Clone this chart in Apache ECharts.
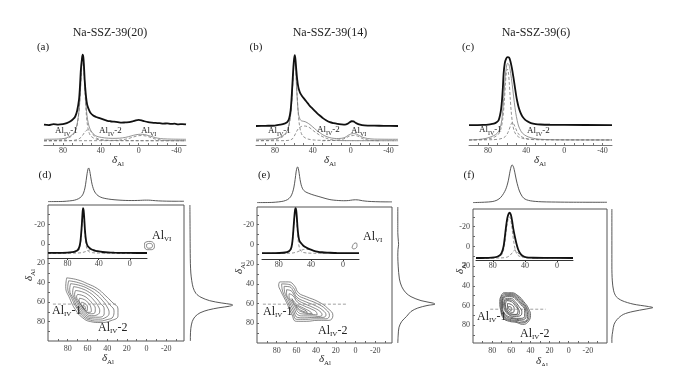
<!DOCTYPE html>
<html><head><meta charset="utf-8">
<script src="https://cdn.jsdelivr.net/npm/echarts@6/dist/echarts.min.js"></script>
<style>html,body{margin:0;padding:0;background:#fff}#c{width:700px;height:366px}</style>
</head><body><div id="c"></div>
<script>
// ---------------- DATA ----------------
const TITLES = ['Na-SSZ-39(20)', 'Na-SSZ-39(14)', 'Na-SSZ-39(6)'];
const LETTERS_TOP = ['(a)', '(b)', '(c)'];
const LETTERS_BOT = ['(d)', '(e)', '(f)'];
const TOP_X_LABELS = [80, 40, 0, -40];
const TOP_X_TICKS = [90, 80, 70, 60, 50, 40, 30, 20, 10, 0, -10, -20, -30, -40];
const MAP_X_LABELS = [80, 60, 40, 20, 0, -20];
const MAP_X_TICKS = [90, 80, 70, 60, 50, 40, 30, 20, 10, 0, -10, -20, -30];
const MAP_Y_LABELS = [-20, 0, 20, 40, 60, 80];
const MAP_Y_TICKS = [-30, -20, -10, 0, 10, 20, 30, 40, 50, 60, 70, 80, 90];
const INSET_X_LABELS = [80, 40, 0];

// (a) 1D spectrum [ppm, intensity]
const A_EXP = [[100,21.5],[95,21],[90,22],[85,21.5],[80,22],[76,23],[72,25],[69,27.5],[67,30],[65,36],[63,48],[62,62],[61,80],[60,90],[59.2,95],[58.4,92],[57.6,80],[57,68],[56,55],[55,46],[54,41],[52.5,37],[51,34],[48,31],[45,29.5],[42,28.5],[39,27.5],[36,26.5],[33,25.5],[30,25],[26,24.5],[22,24],[18,23.5],[14,23.8],[10,24],[6,25],[3,26],[0,26.5],[-3,26],[-6,25],[-10,24],[-14,23.5],[-18,23.2],[-22,23],[-26,22.5],[-30,22.8],[-34,22.2],[-38,22.4],[-42,21.8],[-46,22],[-50,21.6]];
const A_FIT = [[100,6],[85,6.3],[78,7],[74,8.5],[70,11],[67,15],[65,22],[63,36],[62,50],[61,68],[60,85],[59.3,92],[58.5,90],[57.8,80],[57,64],[56,48],[55,35],[54,27],[52.5,20],[51,16],[49,13],[46,10],[42,8.5],[36,7.5],[28,7],[20,7.2],[14,8],[8,9.5],[3,10.8],[-2,11.3],[-6,11],[-10,10],[-15,8.5],[-20,7.2],[-26,6.5],[-35,6.2],[-50,6]];
const A_IV1 = [[100,4.5],[85,5],[78,6],[73,8],[69,11],[66,17],[64,27],[62.5,42],[61.5,58],[60.5,77],[59.7,88],[59,90],[58.3,86],[57.5,72],[56.5,52],[55.5,35],[54.5,24],[53,15],[51,10],[48,7.5],[44,6],[38,5.2],[25,4.8],[0,4.6],[-50,4.5]];
const A_IV2 = [[100,4.5],[75,4.6],[68,5],[64,6],[61,8],[59,10.5],[57,13.5],[55,15.5],[53,16],[51,15],[49,12.5],[47,9.5],[44,7],[40,5.5],[34,4.8],[20,4.5],[-50,4.5]];
const A_VI = [[100,4.5],[30,4.6],[20,5.2],[12,6.5],[6,8.3],[1,9.7],[-3,10],[-7,9.6],[-12,8.2],[-17,6.5],[-23,5.3],[-30,4.7],[-50,4.5]];

// (b)
const B_EXP = [[100,20],[90,20.2],[80,20.5],[74,21.5],[70,22.5],[67,24],[65,28],[63.5,36],[62.5,48],[61.5,65],[60.5,82],[59.7,91],[59,94.7],[58.3,90],[57.5,80],[56.5,69],[55.5,62],[54.5,58],[53,54],[51,51],[49,48.5],[47,46],[45,43.5],[43,41],[41,39],[38,36],[35,33],[32,30.5],[29,28],[26,26],[22,24],[18,23],[14,22.3],[10,21.8],[6,21.5],[3,22.5],[1,24],[-1,25],[-3,24.8],[-5,23.5],[-8,22],[-12,21],[-18,20.5],[-25,20.3],[-35,20.2],[-50,20]];
const B_FIT = [[100,6],[85,6.3],[78,7],[74,8.5],[70,11],[67,15],[65,22],[63,36],[62,50],[61,68],[60,85],[59.3,92],[58.5,88],[57.8,75],[57,58],[56,42],[55,32],[53.5,27],[52,25.5],[50,25],[48,24.5],[46,23.5],[43,21.5],[40,19],[36,15.5],[32,12.5],[28,10],[24,8.3],[20,7.3],[15,6.8],[10,7],[6,8],[3,10],[0,11.5],[-3,12],[-6,11.5],[-9,10],[-13,8],[-18,6.8],[-25,6.2],[-50,6]];
const B_IV1 = [[100,4.5],[85,5],[78,6],[73,8],[69,11],[66,17],[64,27],[62.5,42],[61.5,58],[60.5,77],[59.7,88],[59,90],[58.3,86],[57.5,72],[56.5,52],[55.5,35],[54.5,24],[53,15],[51,10],[48,7.5],[44,6],[38,5.2],[25,4.8],[0,4.6],[-50,4.5]];
const B_IV2 = [[100,4.5],[70,4.6],[64,5.2],[61,7],[59,10.5],[57,14.5],[55,17.5],[52,19.5],[49,20],[46,19.5],[43,18],[40,15.5],[36,12.5],[32,10],[28,8],[24,6.5],[20,5.5],[15,5],[8,4.6],[-50,4.5]];
const B_VI = [[30,4.5],[15,5],[8,6.2],[4,8],[1,9.5],[-3,10],[-7,9.5],[-10,8],[-14,6.2],[-20,5],[-30,4.5]];

// (c)
const C_EXP = [[100,21],[85,21.2],[78,21.8],[74,22.5],[71,24],[69,26],[67.5,31],[66.3,38],[65.4,47],[64.5,60],[63.7,75],[62.5,86],[61,91],[59.5,92.5],[58,92],[56.5,88],[55,81],[53.5,72],[52,62],[50.5,52],[49.4,46],[48,40],[46,34],[44,30],[41,26.5],[38,24.5],[35,23],[30,22],[25,21.6],[15,21.3],[0,21.1],[-50,21]];
const C_FIT = [[100,5.3],[90,5.8],[82,7],[76,9],[72,11],[69,14],[67,19],[65.5,27],[64.3,40],[63,58],[62,72],[60.8,82],[59.5,86],[58.3,85],[57,80],[55.5,70],[54,58],[52.5,45],[51,34],[49.5,26],[48,20],[46,15.5],[44,12.5],[40,9.5],[35,7.6],[30,6.6],[25,6],[15,5.6],[0,5.4],[-50,5.3]];
const C_IV1 = [[100,5.3],[85,5.8],[78,6.8],[73,8.5],[69,11.5],[66.5,17],[64.5,28],[63,45],[61.8,64],[60.8,76],[59.8,80],[58.8,77],[57.8,66],[56.8,50],[55.8,36],[54.5,24],[53,16],[51,11.5],[48,8.5],[44,7],[38,6],[25,5.5],[-50,5.3]];
const C_IV2 = [[100,5.3],[75,5.6],[68,6.3],[63,8],[60,11.5],[58,16],[56,21.5],[54.5,24],[53,22],[51,17.5],[49,13],[46,9.5],[42,7.4],[36,6.2],[25,5.6],[-50,5.3]];

// (d)(e)(f) top projections [ppm, intensity]
const D_TOP = [[100,1],[85,1.5],[78,3],[73,5],[69,9],[66,15],[64,24],[62.5,38],[61.3,58],[60.3,77],[59.4,89],[58.7,92],[58,88],[57.2,77],[56.3,62],[55.2,47],[54,36],[52.5,27],[50.5,20],[48,15],[45,11.5],[41,9],[36,7],[30,5.5],[24,4.5],[18,4],[12,4],[6,4.5],[2,5],[-2,5],[-6,4.2],[-12,3],[-20,2.3],[-30,2],[-38,2]];
const E_TOP = [[100,1],[85,1.5],[78,3],[73,5],[69,9],[66,16],[64,27],[62.5,42],[61.3,62],[60.3,82],[59.4,93],[58.7,95],[58,90],[57.2,78],[56.3,62],[55.2,48],[54,39],[52.5,33],[50.5,29],[48,26],[45,23],[42,20.5],[38,17.5],[34,14.5],[30,11.5],[26,9],[22,7.5],[17,6.5],[12,6],[7,6.5],[3,8],[0,8.5],[-3,8],[-7,6],[-12,4.5],[-20,3.5],[-30,3],[-37,3]];
const F_TOP = [[100,1],[88,2],[80,3.5],[75,7],[71,14],[68,24],[66,33],[64.5,43],[63,57],[61.8,73],[60.7,86],[59.7,94],[59,95],[58,92],[57,84],[55.8,70],[54.5,55],[53,41],[51.5,30],[49.5,20],[47,12],[44,8],[40,5.5],[35,4],[28,3],[18,2.5],[0,2],[-40,1.8]];

// right (F1) projections [intensity, ppm]
const D_RIGHT = [[2,-40],[2.5,0],[3,20],[4,30],[6,38],[9,45],[15,51],[26,55],[45,58.5],[70,60.8],[92,62.3],[95,63],[88,64.2],[65,65.8],[42,68],[24,71],[13,75],[7,80],[4,87],[3,95],[3,100]];
const E_RIGHT = [[2,-38],[2,-12],[3.5,-3],[4,0],[2.5,5],[2,12],[3,22],[6,35],[12,43],[22,49],[35,53],[60,57],[90,59.5],[95,60.5],[75,62],[52,64.5],[35,68],[24,73],[12,78],[5,84],[3,92],[2,100]];
const F_RIGHT = [[2,-38],[2,20],[3,35],[6,45],[12,51],[25,55],[50,58.5],[85,61],[95,62],[80,63.5],[50,66],[28,69],[14,74],[7,79],[4,86],[2,93],[2,98]];

// insets [ppm, intensity]
const D_INSET_EXP = [[105,9.5],[90,9.8],[80,10],[74,11],[70,12.5],[67,15],[65,20],[63.5,30],[62.5,45],[61.5,65],[60.7,85],[60,94],[59.3,90],[58.5,75],[57.7,55],[56.8,40],[55.8,30],[54.5,24],[52.5,20],[50,17],[47,15],[44,13.5],[40,12.3],[35,11.3],[28,10.5],[20,10],[10,9.7],[0,9.5],[-22,9.4]];
const D_INSET_IV1 = [[105,9],[80,9.5],[72,10.5],[68,12],[65,16],[63.5,25],[62.5,40],[61.5,60],[60.7,80],[60,88],[59.3,84],[58.5,68],[57.7,48],[56.8,32],[55.8,22],[54.5,15],[52,11.5],[48,10],[40,9.3],[-22,9]];
const D_INSET_IV2 = [[105,9],[70,9.2],[62,10],[57,12],[53,14.5],[50,16],[47,16],[44,15],[40,13],[36,11],[30,9.8],[20,9.2],[-22,9]];
const E_INSET_EXP = [[101,11],[85,11.2],[75,11.8],[70,13],[67,15],[65,19],[63.5,28],[62.5,42],[61.5,62],[60.5,82],[59.7,93],[59,96],[58.3,92],[57.5,78],[56.7,60],[55.8,46],[54.8,37],[53.5,32],[52,29.5],[50,26],[47,22.5],[44,20],[41,18],[37,16],[32,14],[26,12.7],[18,12],[8,11.3],[-20,11]];
const E_INSET_IV1 = [[101,10.5],[80,11],[72,12],[68,13.5],[65,17],[63.5,25],[62.5,40],[61.5,60],[60.5,78],[59.7,87],[59,88],[58.3,83],[57.5,68],[56.7,50],[55.8,34],[54.5,22],[52.5,15],[50,12.5],[45,11.3],[35,10.8],[-20,10.5]];
const E_INSET_IV2 = [[101,10.5],[70,10.7],[62,11.5],[57,13.5],[53,16],[49,18],[45,18.5],[41,17.5],[37,15.5],[32,13],[27,11.5],[20,10.8],[-20,10.5]];
const F_INSET_EXP = [[101,3.7],[85,4],[78,5],[74,6.5],[71,9],[68.5,15],[66.5,26],[65,43],[63.5,62],[62,77],[60.5,85],[59,87.5],[57.5,84],[56,73],[54.5,58],[52.5,43],[50.5,30],[48.5,20],[46,12.4],[43,8],[38,5],[30,4.2],[15,3.9],[-20,3.7]];
const F_INSET_IV1 = [[101,3.5],[80,4.2],[74,5.5],[70,8],[67.5,14],[65.5,27],[64,45],[62.5,63],[61,75],[59.5,80],[58,77],[56.5,64],[55,46],[53.5,30],[52,19],[50,11],[47,7],[42,5],[30,4],[-20,3.5]];
const F_INSET_IV2 = [[101,3.5],[70,3.8],[63,5],[59,8],[56,13],[54,17],[52.5,18.5],[51,17.5],[49,14],[46.5,9.5],[43,6],[38,4.3],[25,3.7],[-20,3.5]];

// 2D contours [δ F2, δ F1]
const D_CONTOURS = [
 [[81,35],[70,37],[60,41],[50,46],[42,53],[35,60],[29,67],[29,74],[36,79],[47,81],[57,80],[65,76],[72,68],[78,56],[82,44],[81,35]],
 [[79,38],[69,40],[59,44],[50,49],[43,56],[37,63],[33,69],[34,75],[40,78],[49,79.5],[57,78.5],[64,75],[70,67.5],[76,56],[80,45],[79,38]],
 [[77,41],[67,43],[58,47],[51,52],[45,58],[40,65],[38,71],[41,75.5],[49,77.5],[57,77],[63,74],[69,67],[74,57],[78,47],[77,41]],
 [[74,44],[66,46],[58,50],[52,55],[47,61],[43,67],[43,72],[48,75.5],[56,75.5],[62,73],[67.5,66.5],[72,58],[75,50],[74,44]],
 [[72,48],[65,49.5],[58.5,53],[53.5,58],[49.5,63.5],[47.5,69],[50,73],[56,74],[61.5,71.5],[66.5,65.5],[70.5,58.5],[73,52],[72,48]],
 [[70,52],[64,53.5],[59,57],[55,61.5],[52,66.5],[52.5,71],[57,72],[61,70],[65.5,64.5],[69,58.5],[71,54.5],[70,52]],
 [[68,56],[63,57.5],[59,61],[56.5,65.5],[56,69.5],[59.5,70.5],[63,68],[66.5,63],[68.5,58.5],[68,56]],
 [[66,60],[62.5,61.5],[60,65],[60,68.5],[62.5,68],[65,64.5],[66.5,61.5],[66,60]],
 [[64.5,63],[62.5,64.5],[62,67],[64,66],[64.5,63]]
];
const D_VI_CONTOURS = [
 [[2,-1],[-2,-2.5],[-7,-1],[-8,3],[-5,6],[-1,6],[2,3],[2,-1]],
 [[0,0.5],[-3,-0.5],[-6,1.5],[-5,4],[-2,4.5],[0,2.5],[0,0.5]]
];
const E_CONTOURS = [
 [[77,38],[68,38],[62,42],[58,49],[50,53],[38,58],[28,65],[23,72],[27,77],[38,77],[50,78],[60,78],[65,70],[70,59],[76,47],[78,41],[77,38]],
 [[75,40],[68,40.5],[63,44],[59,51],[50,55.5],[39,60],[30,66],[26.5,72],[30,75.5],[40,75.5],[51,76],[59.5,76],[64,68.5],[69,58],[74,47.5],[75,40]],
 [[72.5,42.5],[67,43],[63,47.5],[59.5,53.5],[51,58],[41,62],[33,67],[30,71.5],[33,74],[42,74],[52,74.5],[59,74],[63,67],[67.5,57.5],[72,48],[72.5,42.5]],
 [[70,46],[65.5,47],[62,52],[58.5,56.5],[51,60.5],[43,64],[36,68],[34,71.5],[37,73],[44,72.5],[53,72.5],[58.5,71.5],[62,65.5],[66,57.5],[70,50],[70,46]],
 [[67.5,50],[63.5,52],[59,58.5],[52,62.5],[45,65.5],[39.5,69],[39,71.5],[45,71],[53.5,70.5],[58,69],[61,64],[64.5,57.5],[67.5,52.5],[67.5,50]],
 [[64.5,55],[60,60.5],[53,64.5],[47,67.5],[44,70],[48,70],[54,68.5],[58,66.5],[61,62],[63.5,57.5],[64.5,55]],
 [[60.5,61.5],[55,65],[50,67.5],[49,69],[54,67.5],[58,65],[60.5,61.5]]
];
const E_VI_CONTOURS = [
 [[3.5,3],[1.5,-1],[-0.5,-1.5],[-1.5,1],[0,4],[2.5,4.5],[3.5,3]]
];
const F_CONTOURS = [
 [[68,47],[60,47],[53,50],[47,56],[42,63],[40,70],[43,77],[48,79],[55,77],[62,76],[68,73],[71,65],[72,56],[70,49],[68,47]],
 [[67.5,48],[60,48],[53.5,51],[47.5,57],[43,64],[41.5,70.5],[44.5,76.5],[49,77.5],[55,76],[62,75],[67.5,72],[70.5,64.5],[71,56],[69.5,50],[67.5,48]],
 [[67,49],[60,49],[54,52],[48,58],[44,64],[43,71],[46,76],[54,75],[62,74],[67,71],[70,64],[70,55],[67,49]],
 [[66.5,50],[60,50],[54.5,53],[49,58.5],[45,64.5],[44.5,71],[49,74.5],[57,73.5],[64,72],[68,67.5],[69.5,62],[69.5,55],[66.5,50]],
 [[66,51],[60,51],[55,54],[50,59],[46,65],[46,71],[52,73],[60,72],[66,69],[69,63],[69,56],[66,51]],
 [[66,53],[60,53],[56,56],[52,61],[49,66],[50,70],[57,71],[63,69],[67,64],[68,58],[66,53]],
 [[65.5,54],[60,54.5],[56,58],[53,62.5],[51.5,67],[53,69.5],[59,69.5],[64,67],[66.5,62],[67,57],[65.5,54]],
 [[65,55],[60,56],[56,60],[53,65],[55,69],[61,68],[65,64],[66,59],[65,55]],
 [[64,58],[60,59],[57,63],[58,67],[62,66],[64,62],[64,58]],
 [[63,61],[60,62],[60,65],[62,64],[63,61]]
];
const D_DASH = [[95,62],[31,62]];
const E_DASH = [[94,60.6],[9,60.6]];
const F_DASH = [[82,63.7],[24,63.7]];

// ---------------- BUILD ----------------
const SERIF = '"Liberation Serif", "DejaVu Serif", serif';
const grid = [], xAxis = [], yAxis = [], series = [], graphic = [];

function addGrid(box, xa, ya, gextra) {
  grid.push(Object.assign({left: box.left, top: box.top, width: box.width, height: box.height, containLabel: false}, gextra || {}));
  const i = grid.length - 1;
  xAxis.push(Object.assign({gridIndex: i, type: 'value', show: false, splitLine: {show: false}}, xa));
  yAxis.push(Object.assign({gridIndex: i, type: 'value', show: false, splitLine: {show: false}}, ya));
  return i;
}
function line(i, data, color, width, type, z, smooth) {
  series.push({type: 'line', xAxisIndex: i, yAxisIndex: i, data: data, showSymbol: false, symbol: 'none',
    smooth: smooth === undefined ? 0.3 : smooth, silent: true, animation: false, z: z || 2,
    lineStyle: {color: color, width: width, type: type || 'solid', dashOffset: 0}});
}
function labelAxisX(min, max, labels, ticks, color, inside, margin) {
  return {show: true, min: min, max: max, inverse: true,
    axisLine: {show: true, onZero: false, lineStyle: {color: color, width: 1}},
    axisTick: {show: true, inside: inside, length: 2, customValues: ticks, lineStyle: {color: color}},
    axisLabel: {show: true, customValues: labels, fontSize: 8, color: '#444', margin: margin, fontFamily: SERIF},
    splitLine: {show: false}};
}
function txt(x, y, text, size, extra) {
  graphic.push({type: 'text', x: x, y: y, silent: true, z: 100,
    style: Object.assign({text: text, fontSize: size, fontFamily: SERIF, fill: '#222', align: 'center', verticalAlign: 'middle'}, extra || {})});
}
function subText(x, y, main, sub, suffix, size, align, rot) {
  const s = Math.round(size * 0.62);
  const g = {type: 'text', x: x, y: y, silent: true, z: 100, rotation: rot || 0,
    style: {text: '{a|' + main + '}{s|' + sub + '}' + (suffix ? '{a|' + suffix + '}' : ''),
      align: align || 'left', verticalAlign: 'middle',
      rich: {
        a: {fontSize: size, fontFamily: SERIF, fill: '#222', fontStyle: main === 'δ' ? 'italic' : 'normal', verticalAlign: 'top', lineHeight: size + 1},
        s: {fontSize: s, fontFamily: SERIF, fill: '#222', verticalAlign: 'top', lineHeight: s, padding: [Math.round(size * 0.5), 0, 0, 0]}
      }}};
  graphic.push(g);
}

// ---- top row ----
const TOP = [
  {left: 44, width: 142, title: 110, letter: 43, exp: A_EXP, fit: A_FIT, dashed: [A_IV1, A_IV2, A_VI],
   labels: [[55, 131, 'IV', '-1'], [99, 131, 'IV', '-2'], [141, 131, 'VI', '']], name: 118},
  {left: 256, width: 142, title: 330, letter: 256, exp: B_EXP, fit: B_FIT, dashed: [B_IV1, B_IV2, B_VI],
   labels: [[268, 131.5, 'IV', '-1'], [317, 130, 'IV', '-2'], [351, 131, 'VI', '']], name: 330},
  {left: 469, width: 143, title: 536, letter: 468, exp: C_EXP, fit: C_FIT, dashed: [C_IV1, C_IV2],
   labels: [[479, 130.5, 'IV', '-1'], [527, 131, 'IV', '-2']], name: 540}
];
TOP.forEach(function (p, k) {
  const gi = addGrid({left: p.left, top: 50, width: p.width, height: 95},
    labelAxisX(-50, 100, TOP_X_LABELS, TOP_X_TICKS, '#777', true, 2),
    {min: 0, max: 100});
  p.dashed.forEach(function (d) { line(gi, d, '#777', 0.8, [3, 2], 2); });
  line(gi, p.fit, '#777', 0.8, 'solid', 3);
  line(gi, p.exp, '#111', 1.8, 'solid', 4);
  txt(p.title, 33, TITLES[k], 12);
  txt(p.letter, 47, LETTERS_TOP[k], 11);
  p.labels.forEach(function (l) { subText(l[0], l[1], 'Al', l[2], l[3], 9, 'left'); });
  subText(p.name, 161, 'δ', 'Al', '', 11, 'center');
});

// ---- bottom row ----
const BOT = [
  {box: {left: 48, top: 205, width: 136, height: 136}, xr: [-38, 100], yr: [-40, 100],
   inset: {left: 48, top: 205, width: 99, height: 53}, ixr: [-22, 105],
   topP: {left: 48, top: 165, width: 136, height: 37}, rightP: {left: 189, top: 205, width: 46, height: 136},
   topData: D_TOP, rightData: D_RIGHT, insetExp: D_INSET_EXP, insetDash: [D_INSET_IV1, D_INSET_IV2],
   cont: D_CONTOURS, vi: D_VI_CONTOURS, dash: D_DASH, contColor: '#555', contW: 0.7,
   letter: [45, 175], xname: [108, 359], yname: [30, 275],
   l1: [52, 311], l2: [98, 328], lvi: [152, 236]},
  {box: {left: 257, top: 207, width: 135, height: 136}, xr: [-37, 100], yr: [-38, 100],
   inset: {left: 262, top: 206, width: 97, height: 53}, ixr: [-20, 101],
   topP: {left: 257, top: 165, width: 135, height: 38}, rightP: {left: 397, top: 207, width: 40, height: 136},
   topData: E_TOP, rightData: E_RIGHT, insetExp: E_INSET_EXP, insetDash: [E_INSET_IV1, E_INSET_IV2],
   cont: E_CONTOURS, vi: E_VI_CONTOURS, dash: E_DASH, contColor: '#555', contW: 0.7,
   letter: [264, 175], xname: [325, 360], yname: [240, 268],
   l1: [263, 312], l2: [318, 331], lvi: [363, 237]},
  {box: {left: 473, top: 209, width: 134, height: 134}, xr: [-40, 100], yr: [-38, 98],
   inset: {left: 476, top: 206, width: 97, height: 54}, ixr: [-20, 101],
   topP: {left: 473, top: 163, width: 134, height: 40}, rightP: {left: 611, top: 209, width: 44, height: 134},
   topData: F_TOP, rightData: F_RIGHT, insetExp: F_INSET_EXP, insetDash: [F_INSET_IV1, F_INSET_IV2],
   cont: F_CONTOURS, vi: [], dash: F_DASH, contColor: '#505050', contW: 0.9,
   letter: [469, 175], xname: [542, 362], yname: [461, 268],
   l1: [477, 317], l2: [520, 334], lvi: null}
];
BOT.forEach(function (p, k) {
  const gi = addGrid(p.box,
    {show: true, min: p.xr[0], max: p.xr[1], inverse: true,
     axisLine: {show: false, onZero: false},
     axisTick: {show: true, inside: true, length: 2, customValues: MAP_X_TICKS, lineStyle: {color: '#666'}},
     axisLabel: {show: true, customValues: MAP_X_LABELS, fontSize: 8, color: '#444', margin: 4, fontFamily: SERIF}},
    {show: true, min: p.yr[0], max: p.yr[1], inverse: true,
     axisLine: {show: false, onZero: false},
     axisTick: {show: true, inside: true, length: 2, customValues: MAP_Y_TICKS, lineStyle: {color: '#666'}},
     axisLabel: {show: true, customValues: MAP_Y_LABELS, fontSize: 8, color: '#444', margin: 3, fontFamily: SERIF}},
    {show: true, borderColor: '#555', borderWidth: 1, backgroundColor: 'transparent'});
  p.cont.forEach(function (c) { line(gi, c, p.contColor, p.contW, 'solid', 3, 0.5); });
  p.vi.forEach(function (c) { line(gi, c, '#555', 0.7, 'solid', 3, 0.5); });
  line(gi, p.dash, '#888', 0.8, [3, 2], 4, false);

  const ii = addGrid(p.inset,
    labelAxisX(p.ixr[0], p.ixr[1], INSET_X_LABELS, INSET_X_LABELS, '#333', false, 2),
    {min: 0, max: 100});
  p.insetDash.forEach(function (d) { line(ii, d, '#777', 0.8, [3, 2], 5); });
  line(ii, p.insetExp, '#111', 1.8, 'solid', 6);

  const ti = addGrid(p.topP, {min: p.xr[0], max: p.xr[1], inverse: true}, {min: 0, max: 100});
  line(ti, p.topData, '#444', 0.9, 'solid', 3);

  const ri = addGrid(p.rightP, {min: 0, max: 100}, {min: p.yr[0], max: p.yr[1], inverse: true});
  line(ri, p.rightData, '#444', 0.9, 'solid', 3);

  txt(p.letter[0], p.letter[1], LETTERS_BOT[k], 11);
  subText(p.xname[0], p.xname[1], 'δ', 'Al', '', 11, 'center');
  subText(p.yname[0], p.yname[1], 'δ', 'Al', '', 11, 'center', Math.PI / 2);
  subText(p.l1[0], p.l1[1], 'Al', 'IV', '-1', 12, 'left');
  subText(p.l2[0], p.l2[1], 'Al', 'IV', '-2', 12, 'left');
  if (p.lvi) subText(p.lvi[0], p.lvi[1], 'Al', 'VI', '', 12, 'left');
});

const chart = echarts.init(document.getElementById('c'), null, {renderer: 'canvas'});
chart.setOption({
  backgroundColor: '#fff',
  animation: false,
  grid: grid, xAxis: xAxis, yAxis: yAxis, series: series, graphic: graphic
});
</script></body></html>
